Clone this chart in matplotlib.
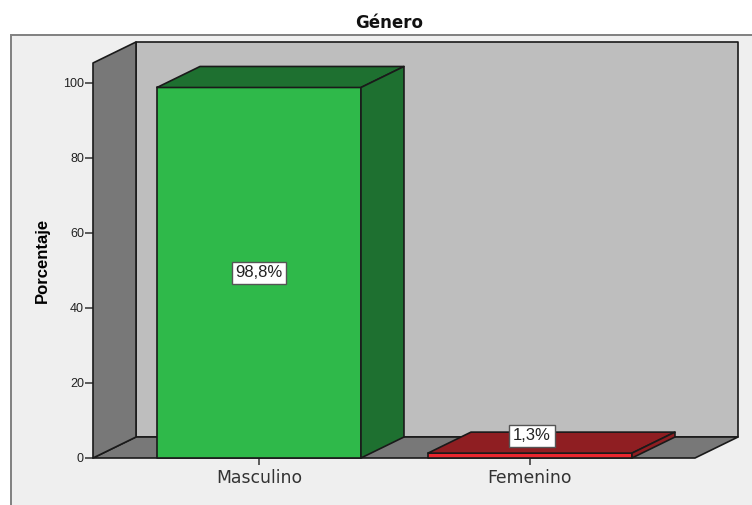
import matplotlib
matplotlib.use("Agg")
import matplotlib.pyplot as plt
from matplotlib.patches import Polygon, Rectangle

categories = ["Masculino", "Femenino"]
values = [98.8, 1.3]
labels = ["98,8%", "1,3%"]
yticks = [0, 20, 40, 60, 80, 100]
title = "Género"
ylabel = "Porcentaje"

front_colors = ["#2FB94A", "#E9262E"]
top_colors = ["#1E7030", "#8F1E22"]
side_colors = ["#1E7030", "#8F1E22"]

W, H = 752, 505
plt.rcParams["font.family"] = ["Liberation Sans", "DejaVu Sans"]
fig = plt.figure(figsize=(W / 100, H / 100), dpi=100, facecolor="white")

# outer panel
fig.add_artist(Rectangle((11 / W, -0.1), 1, (H - 35) / H + 0.1, transform=fig.transFigure,
                         facecolor="#EFEFEF", edgecolor="#808080", linewidth=1.4, zorder=-1))

L, R, T, B = 93, 695, 63, 458
ax = fig.add_axes([L / W, (H - B) / H, (R - L) / W, (B - T) / H])
ax.patch.set_visible(False)
for s in ax.spines.values():
    s.set_visible(False)

xmin, xmax = -0.6125, 1.609
ymax = 105.33
ax.set_xlim(xmin, xmax)
ax.set_ylim(0, ymax)

DX = 43 / 271   # depth in category units
DY = 21 / 3.75  # depth in value units
BW = 204 / 271  # bar width
edge = "#1A1A1A"

def poly(pts, fc, z, lw=1.2):
    ax.add_patch(Polygon(pts, closed=True, facecolor=fc, edgecolor=edge, linewidth=lw,
                         joinstyle="round", clip_on=False, zorder=z))

# box walls
poly([(xmin + DX, DY), (xmax + DX, DY), (xmax + DX, ymax + DY), (xmin + DX, ymax + DY)], "#BEBEBE", 1)
poly([(xmin, 0), (xmax, 0), (xmax + DX, DY), (xmin + DX, DY)], "#787878", 2)
poly([(xmin, 0), (xmin + DX, DY), (xmin + DX, ymax + DY), (xmin, ymax)], "#787878", 2)

# bars
for i, v in enumerate(values):
    x0, x1 = i - BW / 2, i + BW / 2
    poly([(x0, 0), (x1, 0), (x1, v), (x0, v)], front_colors[i], 3)
    poly([(x0, v), (x1, v), (x1 + DX, v + DY), (x0 + DX, v + DY)], top_colors[i], 3)
    poly([(x1, 0), (x1 + DX, DY), (x1 + DX, v + DY), (x1, v)], side_colors[i], 3)

box = dict(boxstyle="square,pad=0.22", facecolor="white", edgecolor="#555555", linewidth=1)
ax.text(0, values[0] / 2, labels[0], ha="center", va="center", fontsize=12, color="#222222",
        bbox=box, zorder=5)
ax.annotate(labels[1], (1, values[1]), xytext=(1.5, 12.5), textcoords="offset points",
            ha="center", va="center", fontsize=12, color="#222222", bbox=box, zorder=5)

ax.set_xticks(range(len(categories)), categories)
ax.set_yticks(yticks)
ax.tick_params(axis="y", length=5.5, width=1.1, color="#333333", labelsize=9,
               labelcolor="#222222", pad=1)
ax.tick_params(axis="x", length=5, width=1.1, color="#333333", labelsize=12.4,
               labelcolor="#333333", pad=3)
for t in ax.get_xticklabels():
    t.set_family("DejaVu Sans")

fig.text(42 / W, 1 - 260 / H, ylabel, rotation=90, ha="center", va="center",
         fontsize=12, fontweight="bold", color="black")
fig.text(389 / W, 1 - 22.5 / H, title, ha="center", va="center",
         fontsize=12, fontweight="bold", color="#111111", family="DejaVu Sans")

fig.savefig("out.png", dpi=100, facecolor="white")
